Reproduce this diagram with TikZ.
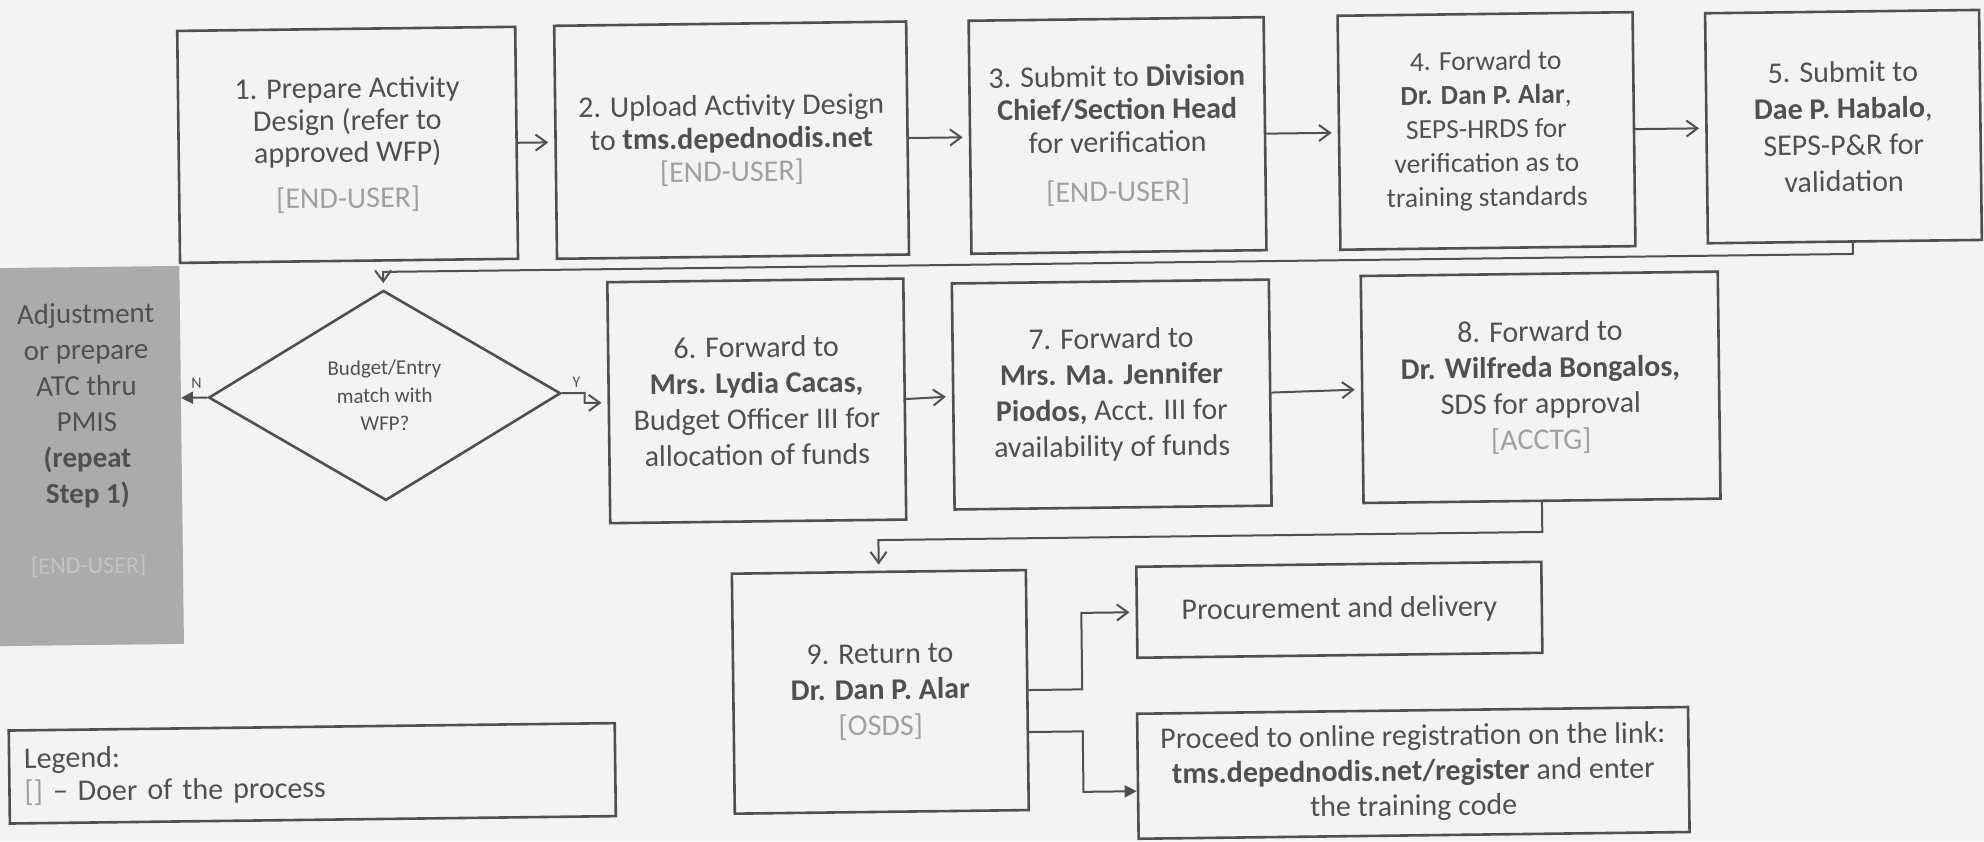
\documentclass[tikz,border=0pt]{standalone}
\usepackage{fontspec}
\setmainfont{Carlito}
\usetikzlibrary{shapes.geometric,arrows.meta}
\definecolor{bg}{HTML}{F3F3F3}
\definecolor{ink}{HTML}{505050}
\definecolor{lbl}{HTML}{A0A0A0}
\definecolor{grayfill}{HTML}{ABABAB}
\definecolor{graylbl}{HTML}{C2C2C2}
\newcommand{\doerlbl}[1]{{\color{lbl}#1}}
\begin{document}
\begin{tikzpicture}[x=0.5pt,y=-0.5pt,
  box/.style={draw=ink, line width=1.3pt, text=ink, align=center, inner sep=0pt, font=\fontsize{15pt}{17.5pt}\selectfont},
  arr/.style={draw=ink, line width=1pt, -{Straight Barb[length=5.5pt,width=8pt]}, shorten >=3pt},
  farr/.style={draw=ink, line width=1pt, -{Triangle[length=6pt,width=6pt]}},
  lab/.style={text=ink, font=\fontsize{8pt}{9pt}\selectfont, inner sep=0pt}]
\useasboundingbox (0,0) rectangle (1984,841);
\fill[bg] (0,0) rectangle (1984,841);
\clip (0,0) rectangle (1984,841);
\begin{scope}[rotate around={0.7:(992,420)}, transform shape]
% top row
\node[box, minimum width=169pt, minimum height=116pt, font=\fontsize{15pt}{16pt}\selectfont] (b1) at (351,137)
  {1. Prepare Activity\\Design (refer to\\approved WFP)\\[7pt]\doerlbl{[END-USER]}};
\node[box, minimum width=176pt, minimum height=116.5pt, font=\fontsize{15pt}{16.5pt}\selectfont] (b2) at (735,137)
  {2. Upload Activity Design\\to \textbf{tms.depednodis.net}\\\doerlbl{[END-USER]}};
\node[box, minimum width=147.5pt, minimum height=116.5pt, font=\fontsize{15pt}{16.5pt}\selectfont] (b3) at (1121,137)
  {3. Submit to \textbf{Division}\\\textbf{Chief/Section Head}\\for verification\\[8pt]\doerlbl{[END-USER]}};
\node[box, minimum width=147.5pt, minimum height=117pt, font=\fontsize{13.75pt}{17pt}\selectfont] (b4) at (1490,137)
  {4. Forward to\\\textbf{Dr. Dan P. Alar},\\SEPS-HRDS for\\verification as to\\training standards};
\node[box, minimum width=137pt, minimum height=115pt, font=\fontsize{15pt}{18.25pt}\selectfont] (b5) at (1847,137)
  {5. Submit to\\\textbf{Dae P. Habalo},\\SEPS-P\&R for\\validation};
% adjustment box
\node[fill=grayfill, minimum width=100.65pt, minimum height=189pt, inner sep=0pt] (adjbox) at (80.6,445) {};
\node[text=ink, align=center, inner sep=0pt, font=\fontsize{14.5pt}{18pt}\selectfont] (adj) at (87,429)
  {Adjustment\\or prepare\\ATC thru\\PMIS\\\textbf{(repeat}\\\textbf{Step 1)}\\[17pt]{\fontsize{12pt}{14pt}\selectfont\color{graylbl}[END-USER]}};
% decision
\node[draw=ink, line width=1.3pt, diamond, aspect=1.676, minimum width=176pt, minimum height=105pt, inner sep=0pt,
  text=ink, align=center, font=\fontsize{10.5pt}{14pt}\selectfont] (dec) at (385,388) {Budget/Entry\\match with\\WFP?};
% second row
\node[box, minimum width=148pt, minimum height=120.5pt, font=\fontsize{15pt}{18pt}\selectfont] (b6) at (757,398)
  {6. Forward to\\\textbf{Mrs. Lydia Cacas,}\\Budget Officer III for\\allocation of funds};
\node[box, minimum width=158.5pt, minimum height=113pt, font=\fontsize{15pt}{18pt}\selectfont] (b7) at (1112,396)
  {7. Forward to\\\textbf{Mrs. Ma. Jennifer}\\\textbf{Piodos,} Acct. III for\\availability of funds};
\node[box, minimum width=178.5pt, minimum height=113.5pt, font=\fontsize{15pt}{18pt}\selectfont] (b8) at (1541,394)
  {8. Forward to\\\textbf{Dr. Wilfreda Bongalos,}\\SDS for approval\\\doerlbl{[ACCTG]}};
% third row
\node[box, minimum width=147pt, minimum height=120pt, font=\fontsize{15pt}{18pt}\selectfont] (b9) at (877,690.5)
  {9. Return to\\\textbf{Dr. Dan P. Alar}\\\doerlbl{[OSDS]}};
\node[box, minimum width=202.5pt, minimum height=45.5pt] (proc) at (1337,614) {Procurement and delivery};
\node[box, minimum width=275.5pt, minimum height=62.5pt] (reg) at (1409,778)
  {Proceed to online registration on the link:\\\textbf{tms.depednodis.net/register} and enter\\the training code};
\node[box, minimum width=303pt, minimum height=46.5pt, text width=288pt, align=left, inner xsep=7.5pt,
  font=\fontsize{15pt}{16.5pt}\selectfont] (leg) at (308,765)
  {Legend:\\\doerlbl{[]} \textendash{} Doer of the process};
% connectors
\draw[arr] (b1.east) -- (b2.west);
\draw[arr] (b2.east) -- (b3.west);
\draw[arr] (b3.east) -- (b4.west);
\draw[arr] (b4.east) -- (b5.west);
\coordinate (k5b) at (1855,264.5);
\coordinate (k5c) at (385,264.5);
\draw[arr] ([xshift=4pt]b5.south) -- (k5b) -- (k5c) -- (dec.north);
\coordinate (nend) at (181.3,388);
\draw[farr] (dec.west) -- (nend);
\node[lab] (nlab) at (197,374) {N};
\coordinate (ya) at (585,388);
\coordinate (yb) at (585,398);
\draw[arr] (dec.east) -- (ya) -- (yb) -- (b6.west);
\node[lab] (ylab) at (577,377) {Y};
\draw[arr] (b6.east) -- (b7.west);
\draw[arr] (b7.east) -- (b8.west);
\coordinate (k8b) at (1541,538.7);
\coordinate (k8c) at (877,538.7);
\draw[arr] (b8.south) -- (k8b) -- (k8c) -- (b9.north);
\coordinate (jp1) at (1079,690.5);
\coordinate (jp2) at (1079,614);
\draw[arr] (b9.east) -- (jp1) -- (jp2) -- (proc.west);
\coordinate (jr1) at (1079,732.5);
\coordinate (jr2) at (1079,793);
\draw[farr] ([yshift=-21pt]b9.east) -- (jr1) -- (jr2) -- ([yshift=-7.5pt]reg.west);
\end{scope}
\end{tikzpicture}
\end{document}
